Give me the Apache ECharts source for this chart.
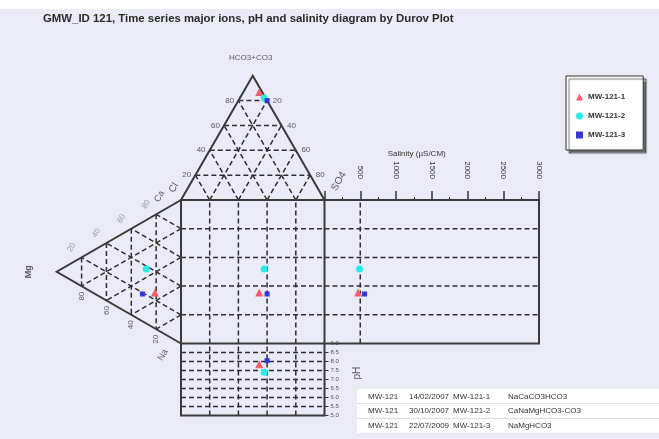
<!DOCTYPE html>
<html><head><meta charset="utf-8">
<script src="https://cdn.jsdelivr.net/npm/echarts@6/dist/echarts.min.js"></script>
<style>html,body{margin:0;padding:0;background:#e9ecf7}#c{width:659px;height:439px}</style>
</head><body><div id="c"></div>
<script>
// ---- data ----
const sampleIds = ['MW-121-1', 'MW-121-2', 'MW-121-3'];
const boreIds = ['MW-121', 'MW-121', 'MW-121'];
const sampleDates = ['14/02/2007', '30/10/2007', '22/07/2009'];
const waterTypes = ['NaCaCO3HCO3', 'CaNaMgHCO3-CO3', 'NaMgHCO3'];
const hco3Pct = [87, 82, 80];   // anion %
const so4Pct = [11, 17, 20];
const clPct = [2, 1, 0];
const caPct = [25, 38, 19];     // cation %
const mgPct = [21, 28, 31];
const naPct = [54, 34, 50];
const salinityVals = [470, 490, 560];
const phVals = [7.85, 7.4, 8.05];
const pctTicks = [20, 40, 60, 80];
const salinityMax = 3000;
const salinityGridVals = [500];
const phMin = 5, phMax = 9, phStep = 0.5;
const sampleColors = ['#ff5a6a', '#1ef0ea', '#3434e0'];
const sampleSymbols = ['triangle', 'circle', 'rect'];
const sampleSizes = [8, 7, 5];

// ---- ternary projections (square = 0..100 units) ----
const SQ = Math.sqrt(3) / 2;
const topXY = (h, s) => [s + h / 2, 100 + h * SQ];      // anion triangle: HCO3 apex, Cl left, SO4 right
const leftXY = (c, m) => [-m * SQ, c + m / 2];           // cation triangle: Mg apex, Ca top, Na bottom

const dashStyle = { color: '#2e2e2e', width: 1.5, type: [5, 3], opacity: 1 };
const solidStyle = { color: '#3a3a3a', width: 2, opacity: 1 };

function linesSeries(gi, segs, style) {
  return { type: 'lines', coordinateSystem: 'cartesian2d', xAxisIndex: gi, yAxisIndex: gi,
    polyline: true, silent: true, clip: false, lineStyle: style, z: 2,
    data: segs.map(c => ({ coords: c })) };
}

// frames
const frameMain = [
  [topXY(0, 0), topXY(100, 0), topXY(0, 100)],
  [leftXY(100, 0), leftXY(0, 100), leftXY(0, 0)],
  [[0, 0], [0, 100], [100, 100], [100, 0], [0, 0]]
];
const frameSal = [[[0, 100], [salinityMax, 100], [salinityMax, 0], [0, 0]]];
const framePh = [[[0, phMax], [0, phMin], [100, phMin], [100, phMax]]];

// dashed grids
const dashMain = [];
pctTicks.forEach(p => {
  dashMain.push([topXY(p, 0), topXY(p, 100 - p)]);          // HCO3 const
  dashMain.push([topXY(0, p), topXY(100 - p, p)]);          // SO4 const
  dashMain.push([topXY(0, 100 - p), topXY(100 - p, 0)]);    // Cl const
  dashMain.push([leftXY(100 - p, p), leftXY(0, p)]);        // Mg const
  dashMain.push([leftXY(p, 0), leftXY(p, 100 - p)]);        // Ca const
  dashMain.push([leftXY(100 - p, 0), leftXY(0, 100 - p)]);  // Na const
  dashMain.push([[p, 0], [p, 100]]);
  dashMain.push([[0, p], [100, p]]);
});
const dashSal = pctTicks.map(p => [[0, p], [salinityMax, p]])
  .concat(salinityGridVals.map(s => [[s, 0], [s, 100]]));
const dashPh = pctTicks.map(p => [[p, phMin], [p, phMax]]);
for (let v = phMin + phStep; v < phMax - 1e-9; v += phStep) dashPh.push([[0, v], [100, v]]);

// labels (text placed near the tick geometry)
const numStyle = { fontSize: 8, color: '#333', fontFamily: 'Liberation Sans' };
const labelItems = [];
function lab(pos, text, extra) {
  labelItems.push({ value: pos, name: String(text), label: Object.assign({}, numStyle, extra || {}) });
}
pctTicks.forEach(p => {
  const a = topXY(p, 0); lab([a[0] - 6, a[1]], p);
  const b = topXY(p, 100 - p); lab([b[0] + 7, b[1]], 100 - p);
  const c = leftXY(0, p); lab([c[0], c[1] - 7], p, { rotate: 90 });
  const d = leftXY(p, 100 - p); lab([d[0] - 7, d[1] + 7], p, { rotate: 60, color: '#888' });
});
const apex = topXY(100, 0);
lab([apex[0] - 1.4, apex[1] + 12.5], 'HCO3+CO3', { fontSize: 8 });
lab([110, 113], 'SO4', { fontSize: 10, rotate: 60 });
lab([-5, 108.5], 'Cl', { fontSize: 10, rotate: 60 });
lab([-15, 102.5], 'Ca', { fontSize: 9, rotate: 60 });
lab([leftXY(0, 100)[0] - 20, 50], 'Mg', { fontSize: 9, rotate: 90, fontWeight: 'bold' });
lab([-12.5, -8], 'Na', { fontSize: 9, rotate: 60 });
lab([122.6, -20.6], 'pH', { fontSize: 10, rotate: 90 });

const series = [
  linesSeries(0, dashMain, dashStyle),
  linesSeries(1, dashSal, dashStyle),
  linesSeries(2, dashPh, dashStyle),
  linesSeries(0, frameMain, solidStyle),
  linesSeries(1, frameSal, solidStyle),
  linesSeries(2, framePh, solidStyle),
  { type: 'scatter', xAxisIndex: 0, yAxisIndex: 0, symbolSize: 0, silent: true, clip: false, z: 5,
    label: { show: true, position: 'inside', formatter: '{b}', align: 'center', verticalAlign: 'middle' },
    data: labelItems }
];

sampleIds.forEach((name, i) => {
  const t = topXY(hco3Pct[i], so4Pct[i]);
  const l = leftXY(caPct[i], mgPct[i]);
  const sq = [t[0], l[1]];
  const common = { type: 'scatter', name: name, symbol: sampleSymbols[i], symbolSize: sampleSizes[i],
    itemStyle: { color: sampleColors[i], opacity: 1 }, z: 10, clip: false };
  series.push(Object.assign({}, common, { xAxisIndex: 0, yAxisIndex: 0, data: [t, l, sq] }));
  series.push(Object.assign({}, common, { xAxisIndex: 1, yAxisIndex: 1, data: [[salinityVals[i], sq[1]]] }));
  series.push(Object.assign({}, common, { xAxisIndex: 2, yAxisIndex: 2, data: [[sq[0], phVals[i]]] }));
});

const hidden = { show: false };
const U = 1.435;
const sqLeft = 181, sqTop = 200;
const option = {
  animation: false,
  backgroundColor: '#e9ecf7',
  grid: [
    { left: sqLeft - 110 * U, top: sqTop - 90 * U, width: 220 * U, height: 200 * U },
    { left: sqLeft + 100 * U, top: sqTop, width: 214.5, height: 100 * U },
    { left: sqLeft, top: sqTop + 100 * U, width: 100 * U, height: 72 }
  ],
  xAxis: [
    Object.assign({ type: 'value', gridIndex: 0, min: -110, max: 110 }, hidden),
    { type: 'value', gridIndex: 1, min: 0, max: salinityMax, interval: 500, position: 'top',
      name: 'Salinity (µS/CM)', nameLocation: 'middle', nameGap: 42,
      nameTextStyle: { fontSize: 8, color: '#333', padding: [0, 30, 0, 0] },
      axisLine: { show: true, onZero: false, lineStyle: { color: '#3a3a3a', width: 2 } },
      axisTick: { show: true, length: 9, lineStyle: { color: '#333', width: 1.5 } },
      minorTick: { show: true, splitNumber: 2, length: 3, lineStyle: { color: '#333' } },
      splitLine: { show: false },
      axisLabel: { rotate: 90, fontSize: 8, color: '#333', margin: 21,
        formatter: v => (v === 0 ? '' : String(v)) } },
    Object.assign({ type: 'value', gridIndex: 2, min: 0, max: 100 }, hidden)
  ],
  yAxis: [
    Object.assign({ type: 'value', gridIndex: 0, min: -10, max: 190 }, hidden),
    Object.assign({ type: 'value', gridIndex: 1, min: 0, max: 100 }, hidden),
    { type: 'value', gridIndex: 2, min: phMin, max: phMax, interval: phStep, position: 'right',
      axisLine: { show: false, onZero: false }, splitLine: { show: false },
      axisTick: { show: true, length: 4, lineStyle: { color: '#333' } },
      axisLabel: { fontSize: 6, color: '#555', margin: 6, formatter: v => v.toFixed(1) } }
  ],
  legend: {
    orient: 'vertical', left: 566, top: 76,
    data: sampleIds.map((n, i) => ({ name: n, icon: sampleSymbols[i] })),
    itemWidth: 7, itemHeight: 7, itemGap: 11, padding: [17, 18, 11, 10],
    backgroundColor: '#ffffff', borderColor: '#333', borderWidth: 1,
    shadowColor: 'rgba(0,0,0,0.55)', shadowOffsetX: 3, shadowOffsetY: 3, shadowBlur: 1,
    textStyle: { fontSize: 8, fontWeight: 'bold', color: '#333', fontFamily: 'Liberation Sans' }
  },
  graphic: [],
  series: series
};

// title + white top strip
option.graphic.push({ type: 'rect', left: 0, top: 0, shape: { width: 659, height: 9 }, style: { fill: '#ffffff' }, silent: true });
option.graphic.push({ type: 'text', left: 43, top: 13,
  style: { text: 'GMW_ID 121, Time series major ions, pH and salinity diagram by Durov Plot',
    font: 'bold 11.4px "Liberation Sans", Arial, sans-serif', fill: '#2a2a2a' } });

// sample table
const tblTop = 389, rowH = 14.7, tblLeft = 357;
option.graphic.push({ type: 'rect', left: tblLeft, top: tblTop, shape: { width: 302, height: rowH * sampleIds.length },
  style: { fill: '#ffffff' }, silent: true });
const colX = [368, 409, 453, 508];
sampleIds.forEach((id, i) => {
  const y = tblTop + rowH * i + rowH / 2;
  if (i > 0) option.graphic.push({ type: 'line', shape: { x1: tblLeft, y1: tblTop + rowH * i, x2: 659, y2: tblTop + rowH * i },
    style: { stroke: '#d8d8d8', lineWidth: 1 } });
  [boreIds[i], sampleDates[i], id, waterTypes[i]].forEach((t, k) => {
    option.graphic.push({ type: 'text', x: colX[k], y: y,
      style: { text: t, font: '8px "Liberation Sans", Arial, sans-serif', fill: '#333', textVerticalAlign: 'middle' } });
  });
});

const chart = echarts.init(document.getElementById('c'), null, { renderer: 'canvas' });
chart.setOption(option);
</script></body></html>
